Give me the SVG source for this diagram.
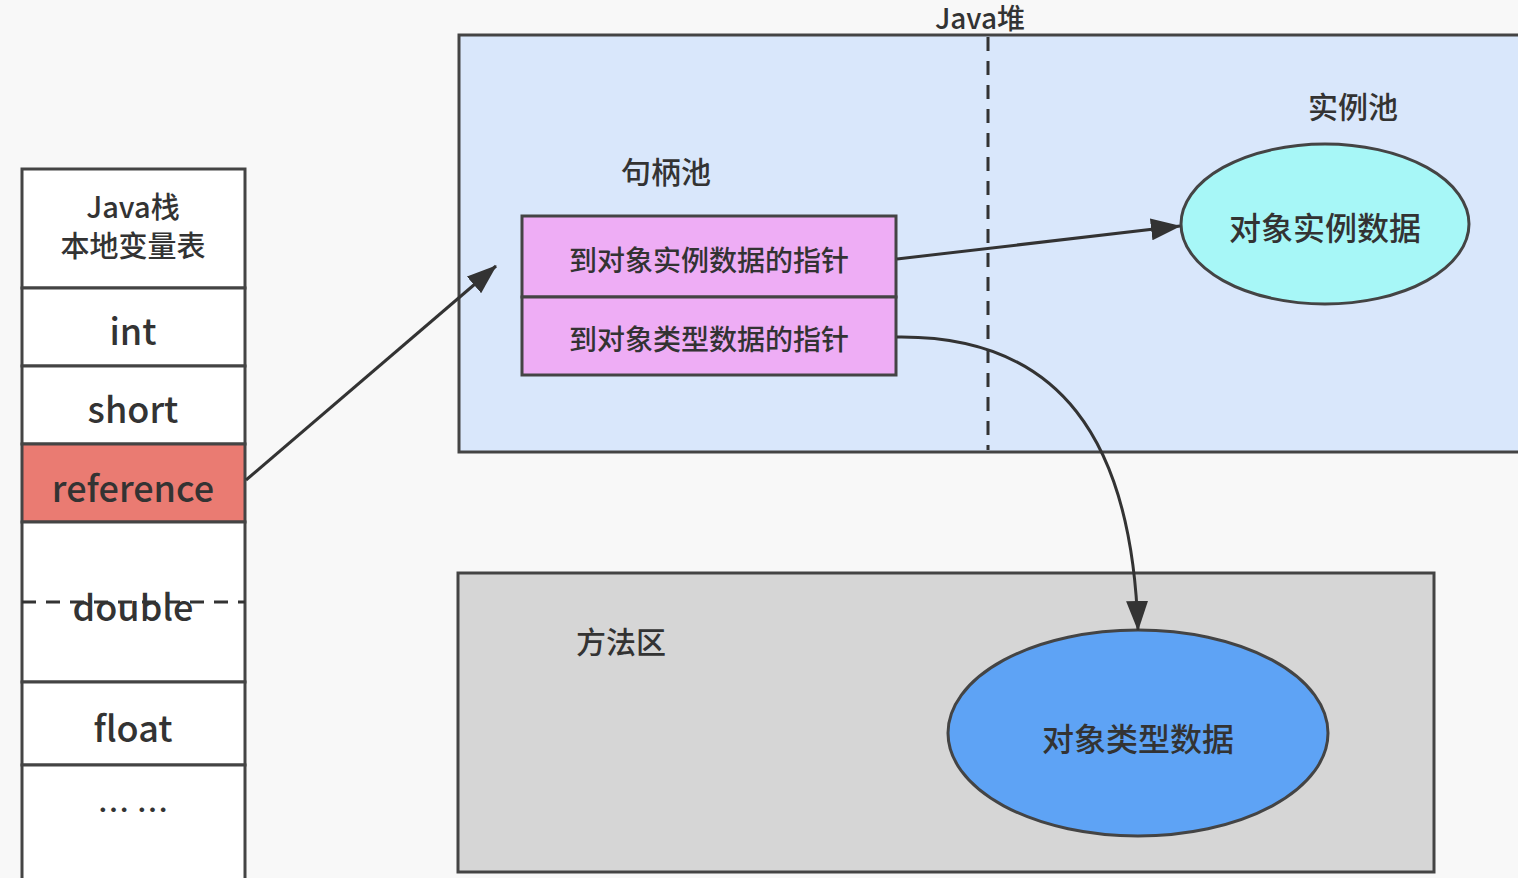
<svg xmlns="http://www.w3.org/2000/svg" width="1518" height="878" viewBox="0 0 1518 878">
<style>
text{font-family:"Noto Sans CJK SC","Noto Sans",sans-serif;fill:#333;text-anchor:middle;dominant-baseline:central;font-weight:500}
.cell{fill:#fff;stroke:#444;stroke-width:3}
.box{stroke:#444;stroke-width:3}
.dash{stroke:#333;stroke-width:3;stroke-dasharray:14 10;fill:none}
.conn{stroke:#333;stroke-width:3;fill:none;marker-end:url(#ah)}
</style>
<defs>
<marker id="ah" viewBox="0 0 30 22" refX="29" refY="11" markerWidth="30" markerHeight="22" markerUnits="userSpaceOnUse" orient="auto">
<path d="M0,0 L30,11 L0,22 z" fill="#333"/>
</marker>
</defs>
<rect width="1518" height="878" fill="#f8f8f8"/>
<g id="stack">
<rect class="cell" x="22" y="169" width="223" height="119"/>
<text x="133" y="205" font-size="29">Java栈</text>
<text x="133" y="244" font-size="29">本地变量表</text>
<rect class="cell" x="22" y="288" width="223" height="78"/>
<text x="133" y="329" font-size="36">int</text>
<rect class="cell" x="22" y="366" width="223" height="78"/>
<text x="133" y="407" font-size="36">short</text>
<rect class="cell" x="22" y="444" width="223" height="78" style="fill:#ea7b72"/>
<text x="133" y="486" font-size="36">reference</text>
<rect class="cell" x="22" y="522" width="223" height="160"/>
<line class="dash" x1="22" y1="602" x2="245" y2="602"/>
<text x="133" y="605" font-size="36">double</text>
<rect class="cell" x="22" y="682" width="223" height="83"/>
<text x="133" y="726" font-size="36">float</text>
<rect class="cell" x="22" y="765" width="223" height="120"/>
<text x="133" y="808" font-size="32" font-weight="bold">… …</text>
</g>
<g id="heap">
<rect class="box" x="459" y="35" width="1070" height="417" fill="#d9e7fb"/>
<line class="dash" x1="988" y1="37" x2="988" y2="450"/>
<text x="980" y="17" font-size="28">Java堆</text>
<text x="666" y="170" font-size="30">句柄池</text>
<text x="1353" y="105" font-size="30">实例池</text>
</g>
<g id="ptr-instance">
<rect class="box" x="522" y="216" width="374" height="81" fill="#eeadf5"/>
<text x="709" y="259" font-size="28">到对象实例数据的指针</text>
</g>
<g id="ptr-type">
<rect class="box" x="522" y="297" width="374" height="78" fill="#eeadf5"/>
<text x="709" y="338" font-size="28">到对象类型数据的指针</text>
</g>
<g id="instance-data">
<ellipse class="box" cx="1325" cy="224" rx="144" ry="80" fill="#a7f7f7"/>
<text x="1325" y="226" font-size="32">对象实例数据</text>
</g>
<g id="method-area">
<rect class="box" x="458" y="573" width="976" height="299" fill="#d6d6d6"/>
<text x="621" y="640" font-size="30">方法区</text>
</g>
<g id="type-data">
<ellipse class="box" cx="1138" cy="733" rx="190" ry="103" fill="#5ea3f5"/>
<text x="1138" y="737" font-size="32">对象类型数据</text>
</g>
<g id="connectors">
<path class="conn" d="M246,480 L496,266"/>
<path class="conn" d="M897,259 L1180,226"/>
<path class="conn" d="M897,337 C1060,335 1132,440 1138,630"/>
</g>
</svg>
